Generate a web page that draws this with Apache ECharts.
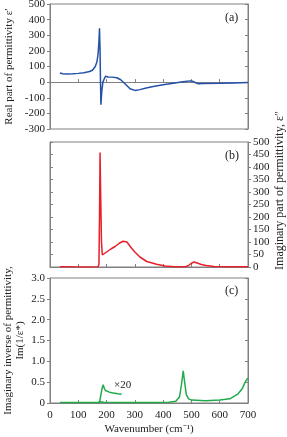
<!DOCTYPE html>
<html><head><meta charset="utf-8">
<script src="https://cdn.jsdelivr.net/npm/echarts@6/dist/echarts.min.js"></script>
<style>html,body{margin:0;padding:0;background:#fff}#c{width:287px;height:437px}</style>
</head><body><div id="c"></div>
<script>
// Panel (a): real part of permittivity
const waveA = [35,45,60,80,100,120,140,150,160,166,170,173,175,177,178.5,180,183,187,192,197,199,205,220,236,250,265,283,300,318,340,365,400,436,470,495,505,515,525,540,600,650,700];
const realA = [58,53,52,53,56,60,68,76,100,130,180,260,345,200,0,-145,-60,0,22,38,42,33,32,28,15,-10,-42,-53,-48,-38,-28,-17,-7,2,8,5,-4,-10,-9,-7,-5,-3];
// Panel (b): imaginary part of permittivity
const waveB = [35,60,100,150,170,173,175,177,179,182,185,190,200,215,230,245,258,265,272,285,300,318,342,377,407,440,480,490,500,509,520,535,552,580,620,700];
const imagB = [1,1,0.5,0.5,1,10,200,458,300,100,48,52,60,72,82,95,103,104,100,80,60,40,22,11,4,1,1,6,15,20,16,10,6,2,1,1];
// Panel (c): imaginary inverse of permittivity
const waveC = [35,100,170,180,190,250,350,420,445,458,465,471,476,482,490,500,550,600,636,665,680,690,697,700];
const invC = [0.01,0.01,0.01,0.03,0.02,0.01,0.01,0.02,0.04,0.15,0.45,0.77,0.5,0.2,0.1,0.07,0.055,0.07,0.1,0.22,0.35,0.5,0.58,0.58];
// Panel (c): x20 magnified segment
const waveC20 = [172,176,180,185,188,192,196,200,210,224,240,253];
const invC20 = [0,0.05,0.2,0.38,0.44,0.35,0.3,0.28,0.26,0.24,0.22,0.21];
const xTicks = [0,100,200,300,400,500,600,700];

const pair = (xs, ys) => xs.map((x, i) => [x, ys[i]]);
const FONT = 'Liberation Serif';
const AX = '#808080';
const lineAx = {show: true, lineStyle: {color: AX, width: 1}};
const lbl = {color: '#222', fontFamily: FONT, fontSize: 11};
const nameStyle = {color: '#222', fontFamily: FONT, fontSize: 11};
const grids = [
  {left: 50, right: 39, top: 4, height: 125},
  {left: 50, right: 39, top: 142, height: 125},
  {left: 50, right: 39, top: 278, height: 125}
].map(g => Object.assign(g, {show: true, borderColor: AX, borderWidth: 1, containLabel: false, outerBoundsMode: 'none'}));

function xAxis(idx, labels) {
  return {type: 'value', gridIndex: idx, min: 0, max: 700, interval: 100,
    axisLine: lineAx, axisTick: {inside: true, length: 3, lineStyle: {color: AX}},
    axisLabel: labels ? Object.assign({margin: 7}, lbl) : {show: false},
    splitLine: {show: false}, nameMoveOverlap: false,
    name: labels ? 'Wavenumber (cm\u207B\u00B9)' : '', nameLocation: 'middle', nameGap: 21,
    nameTextStyle: nameStyle};
}
const opt = {
  animation: false,
  grid: grids,
  xAxis: [xAxis(0, false), xAxis(1, false), xAxis(2, true)],
  yAxis: [
    {type: 'value', gridIndex: 0, position: 'left', min: -300, max: 500, interval: 100,
     axisLine: lineAx, axisTick: {inside: false, length: 3, lineStyle: {color: AX}},
     axisLabel: Object.assign({margin: 5}, lbl), splitLine: {show: false}, nameMoveOverlap: false,
     name: 'Real part of permittivity ε\u2032', nameLocation: 'middle', nameGap: 35,
     nameTextStyle: nameStyle},
    {type: 'value', gridIndex: 0, position: 'right', min: -300, max: 500, interval: 100,
     axisLine: lineAx, axisTick: {inside: true, length: 3, lineStyle: {color: AX}},
     axisLabel: {show: false}, splitLine: {show: false}},
    {type: 'value', gridIndex: 1, position: 'left', min: 0, max: 500, interval: 50,
     axisLine: lineAx, axisTick: {inside: true, length: 3, lineStyle: {color: AX}},
     axisLabel: {show: false}, splitLine: {show: false}},
    {type: 'value', gridIndex: 1, position: 'right', min: 0, max: 500, interval: 50,
     axisLine: lineAx, axisTick: {inside: false, length: 3, lineStyle: {color: AX}},
     axisLabel: Object.assign({margin: 5}, lbl), splitLine: {show: false}, nameMoveOverlap: false,
     name: 'Imaginary part of permittivity, ε\u2033', nameLocation: 'middle', nameGap: 26,
     nameTextStyle: Object.assign({}, nameStyle, {fontSize: 12, padding: [0, 0, 0, 28]})},
    {type: 'value', gridIndex: 2, position: 'left', min: 0, max: 3, interval: 0.5,
     axisLine: lineAx, axisTick: {inside: false, length: 3, lineStyle: {color: AX}},
     axisLabel: Object.assign({margin: 5, formatter: v => v === 0 ? '0' : v.toFixed(1)}, lbl),
     splitLine: {show: false}, nameMoveOverlap: false,
     name: 'Imaginary inverse of permittivity,\nIm(1/ε*)', nameLocation: 'middle', nameGap: 24,
     nameTextStyle: Object.assign({}, nameStyle, {fontSize: 11, lineHeight: 12})},
    {type: 'value', gridIndex: 2, position: 'right', min: 0, max: 3, interval: 0.5,
     axisLine: lineAx, axisTick: {inside: true, length: 3, lineStyle: {color: AX}},
     axisLabel: {show: false}, splitLine: {show: false}}
  ],
  series: [
    {type: 'line', xAxisIndex: 0, yAxisIndex: 0, data: pair(waveA, realA), showSymbol: false,
     lineStyle: {color: '#2450a8', width: 1.5}},
    {type: 'line', xAxisIndex: 1, yAxisIndex: 3, data: pair(waveB, imagB), showSymbol: false,
     lineStyle: {color: '#e8202a', width: 1.5}},
    {type: 'line', xAxisIndex: 2, yAxisIndex: 4, data: pair(waveC, invC), showSymbol: false,
     lineStyle: {color: '#22aa4c', width: 1.5}},
    {type: 'line', xAxisIndex: 2, yAxisIndex: 4, data: pair(waveC20, invC20), showSymbol: false,
     lineStyle: {color: '#22aa4c', width: 1.5}}
  ],
  graphic: [
    {type: 'text', left: 225, top: 12, style: {text: '(a)', font: '12px "Liberation Serif"', fill: '#222'}},
    {type: 'text', left: 225, top: 150, style: {text: '(b)', font: '12px "Liberation Serif"', fill: '#222'}},
    {type: 'text', left: 225, top: 285, style: {text: '(c)', font: '12px "Liberation Serif"', fill: '#222'}},
    {type: 'text', left: 114, top: 380, style: {text: '\u00D720', font: '11px "Liberation Serif"', fill: '#222'}}
  ]
};
echarts.init(document.getElementById('c')).setOption(opt);
</script></body></html>
